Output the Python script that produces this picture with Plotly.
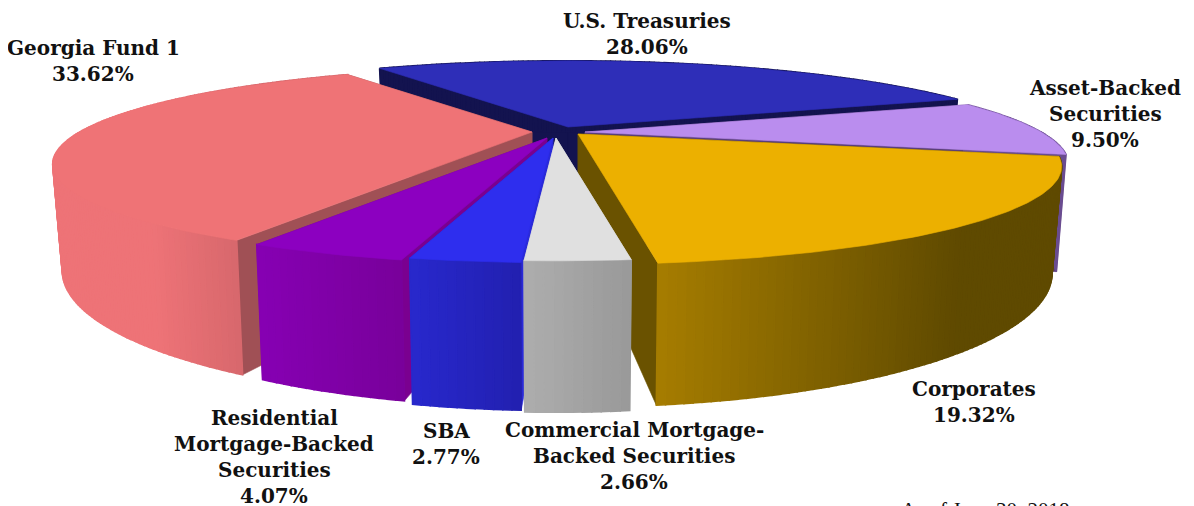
import math
import plotly.graph_objects as go

categories = ["U.S. Treasuries", "Asset-Backed Securities", "Corporates",
              "Commercial Mortgage-Backed Securities", "SBA",
              "Residential Mortgage-Backed Securities", "Georgia Fund 1"]
values = [28.06, 9.50, 19.32, 2.66, 2.77, 4.07, 33.62]

label_lines = [["U.S. Treasuries"], ["Asset-Backed", "Securities"], ["Corporates"],
               ["Commercial Mortgage-", "Backed Securities"], ["SBA"],
               ["Residential", "Mortgage-Backed", "Securities"], ["Georgia Fund 1"]]
label_centers = [(647, 21), (1105, 88), (974, 389), (634, 430), (446, 431), (274, 418), (93, 48)]
footnote = "As of June 30, 2018"

apexes = [(568, 127), (585, 132), (578, 134), (556, 138), (553, 138), (547, 138), (532, 132)]
radii = [1.02, 1.0, 1.0, 0.96, 0.97, 0.98, 0.992]
depths = [95, 108, 95, 103, 100, 96, 95]
top_colors = ["#2E2EB8", "#BA8DEE", "#ECB000", "#E0E0E0", "#2E2EEE", "#8C00C0", "#EF7376"]
cut_colors = ["#13134F", "#5A3F7A", "#6A5200", "#D0D0D0", "#2A2AD8", "#7A0090", "#A05055"]
rim_left = ["#13134F", "#6A4C90", "#A87E00", "#ADADAD", "#2828CC", "#8600B2", "#EE7377"]
rim_right = ["#13134F", "#6A4C90", "#5F4A00", "#999999", "#2220B0", "#78009A", "#D4666B"]
rim_span = [(0, 1194), (1040, 1070), (650, 960), (525, 630), (410, 520), (260, 405), (150, 250)]
paint_order = [0, 1, 6, 2, 5, 4, 3]

START = -31.5
A, B, P, SHRINK = 456, 87, 1 / 3, 0.02
PAGE_OFFSET = 8  # the page body margin, taken out of the axis ranges


def project(theta, r, apex, z, h):
    t = math.radians(theta)
    X, Y = r * math.sin(t), -r * math.cos(t)
    s = 1 / (1 - P * Y)
    return (apex[0] + A * X * s * (1 - SHRINK * z),
            apex[1] + B * Y * s + z * h * s)


def mix(c0, c1, f):
    f = max(0, min(1, f))
    a = [int(c0[i:i + 2], 16) for i in (1, 3, 5)]
    b = [int(c1[i:i + 2], 16) for i in (1, 3, 5)]
    return "rgb(%d,%d,%d)" % tuple(round(a[i] + (b[i] - a[i]) * f) for i in range(3))


fig = go.Figure()


def poly(pts, color, name, width=0.6):
    xs = [p[0] for p in pts] + [pts[0][0]]
    ys = [p[1] for p in pts] + [pts[0][1]]
    fig.add_trace(go.Scatter(x=xs, y=ys, mode="lines", fill="toself", fillcolor=color,
                             line=dict(color=color, width=width), name=name,
                             hoverinfo="skip", showlegend=False))


total = sum(values)
bounds = [START]
for v in values:
    bounds.append(bounds[-1] + v / total * 360)

for i in paint_order:
    t0, t1 = bounds[i], bounds[i + 1]
    ap, R, h = apexes[i], radii[i], depths[i]
    n = max(3, int((t1 - t0) / 0.8))
    ths = [t0 + (t1 - t0) * k / n for k in range(n + 1)]
    for th in (t0, t1):
        poly([project(th, 0, ap, 0, h), project(th, R, ap, 0, h),
              project(th, R, ap, 1, h), project(th, 0, ap, 1, h)], cut_colors[i], categories[i])
    for k in range(n):
        a, b = ths[k], ths[k + 1]
        pa, pb = project(a, R, ap, 0, h), project(b, R, ap, 0, h)
        f = ((pa[0] + pb[0]) / 2 - rim_span[i][0]) / (rim_span[i][1] - rim_span[i][0])
        poly([pa, pb, project(b, R, ap, 1, h), project(a, R, ap, 1, h)],
             mix(rim_left[i], rim_right[i], f), categories[i], width=1.6)
    poly([project(t0, 0, ap, 0, h)] + [project(t, R, ap, 0, h) for t in ths], top_colors[i], categories[i])

LINE = 26
FONT = dict(family="DejaVu Serif", size=20, color="#111111", weight="bold")
for lines, (cx, cy), v in zip(label_lines, label_centers, values):
    for j, text in enumerate(lines + ["%.2f%%" % v]):
        fig.add_annotation(x=cx, y=cy + j * LINE, text=text, showarrow=False,
                           xanchor="center", yanchor="middle", font=FONT)
fig.add_annotation(x=985, y=510, text=footnote, showarrow=False, xanchor="center",
                   yanchor="middle", font=dict(family="Liberation Serif", size=21, color="#111111"))

fig.update_layout(width=1194, height=506, margin=dict(l=0, r=0, t=0, b=0),
                  paper_bgcolor="white", plot_bgcolor="white", showlegend=False,
                  xaxis=dict(range=[PAGE_OFFSET, 1194 + PAGE_OFFSET], visible=False, fixedrange=True),
                  yaxis=dict(range=[506 + PAGE_OFFSET, PAGE_OFFSET], visible=False, fixedrange=True))
fig.write_html("out.html", config=dict(displayModeBar=False))
